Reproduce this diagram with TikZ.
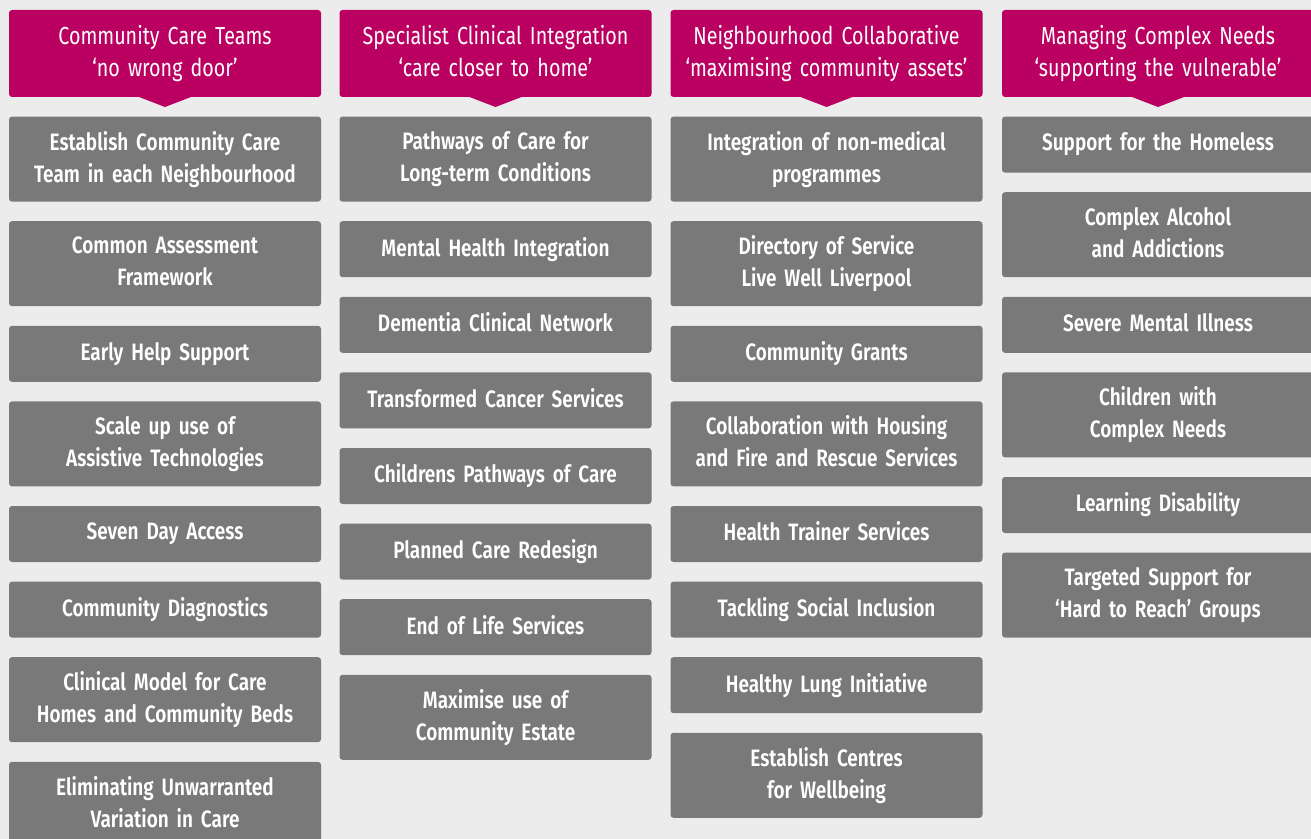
\documentclass[tikz,border=0pt]{standalone}
\usepackage{fontspec}
\setmainfont{Fira Sans}[FakeStretch=0.80, BoldFont={Fira Sans SemiBold}]
\usepackage{xcolor}
\usepackage{tikz}
\usetikzlibrary{positioning}

\definecolor{headpink}{HTML}{BA0060}
\definecolor{boxgrey}{HTML}{797979}
\definecolor{backgrey}{HTML}{ECECEC}

\begin{document}
\begin{tikzpicture}[
    node distance=0.392cm,
    head/.style={rectangle, fill=headpink, rounded corners=0.06cm, minimum width=6.24cm, minimum height=1.74cm, text width=6.1cm, align=center, text=white, inner sep=0pt, outer sep=0pt, font=\fontsize{14}{18.2}\selectfont, execute at end node=\vphantom{gy}},
    box/.style={rectangle, fill=boxgrey, rounded corners=0.06cm, minimum width=6.24cm, minimum height=1.12cm, text width=6.1cm, align=center, text=white, inner sep=0pt, outer sep=0pt, font=\fontsize{13.5}{18.2}\selectfont\bfseries, execute at end node=\vphantom{gy}},
    tall/.style={box, minimum height=1.7cm},
    tip/.style={fill=headpink}
]
\fill[backgrey] (0,0) rectangle (26.22,-16.78);
\useasboundingbox (0,0) rectangle (26.22,-16.78);
\clip (0,0) rectangle (26.22,-16.78);

\node[head] (h1) at (3.3,-1.07) {Community Care Teams\\‘no wrong door’};
\node[head] (h2) at (9.91,-1.07) {Specialist Clinical Integration\\‘care closer to home’};
\node[head] (h3) at (16.53,-1.07) {Neighbourhood Collaborative\\‘maximising community assets’};
\node[head] (h4) at (23.16,-1.07) {Managing Complex Needs\\‘supporting the vulnerable’};
\foreach \h in {h1,h2,h3,h4}
  \fill[tip] ([xshift=-0.52cm]\h.south) -- ([xshift=0.52cm]\h.south) -- ([yshift=-0.2cm]\h.south) -- cycle;

\node[tall, below=of h1] (a1) {Establish Community Care\\Team in each Neighbourhood};
\node[tall, below=of a1] (a2) {Common Assessment\\Framework};
\node[box, below=of a2] (a3) {Early Help Support};
\node[tall, below=of a3] (a4) {Scale up use of\\Assistive Technologies};
\node[box, below=of a4] (a5) {Seven Day Access};
\node[box, below=of a5] (a6) {Community Diagnostics};
\node[tall, below=of a6] (a7) {Clinical Model for Care\\Homes and Community Beds};
\node[tall, below=of a7] (a8) {Eliminating Unwarranted\\Variation in Care};

\node[tall, below=of h2] (b1) {Pathways of Care for\\Long-term Conditions};
\node[box, below=of b1] (b2) {Mental Health Integration};
\node[box, below=of b2] (b3) {Dementia Clinical Network};
\node[box, below=of b3] (b4) {Transformed Cancer Services};
\node[box, below=of b4] (b5) {Childrens Pathways of Care};
\node[box, below=of b5] (b6) {Planned Care Redesign};
\node[box, below=of b6] (b7) {End of Life Services};
\node[tall, below=of b7] (b8) {Maximise use of\\Community Estate};

\node[tall, below=of h3] (c1) {Integration of non-medical\\programmes};
\node[tall, below=of c1] (c2) {Directory of Service\\Live Well Liverpool};
\node[box, below=of c2] (c3) {Community Grants};
\node[tall, below=of c3] (c4) {Collaboration with Housing\\and Fire and Rescue Services};
\node[box, below=of c4] (c5) {Health Trainer Services};
\node[box, below=of c5] (c6) {Tackling Social Inclusion};
\node[box, below=of c6] (c7) {Healthy Lung Initiative};
\node[tall, below=of c7] (c8) {Establish Centres\\for Wellbeing};

\node[box, below=of h4] (d1) {Support for the Homeless};
\node[tall, below=of d1] (d2) {Complex Alcohol\\and Addictions};
\node[box, below=of d2] (d3) {Severe Mental Illness};
\node[tall, below=of d3] (d4) {Children with\\Complex Needs};
\node[box, below=of d4] (d5) {Learning Disability};
\node[tall, below=of d5] (d6) {Targeted Support for\\‘Hard to Reach’ Groups};
\end{tikzpicture}
\end{document}
